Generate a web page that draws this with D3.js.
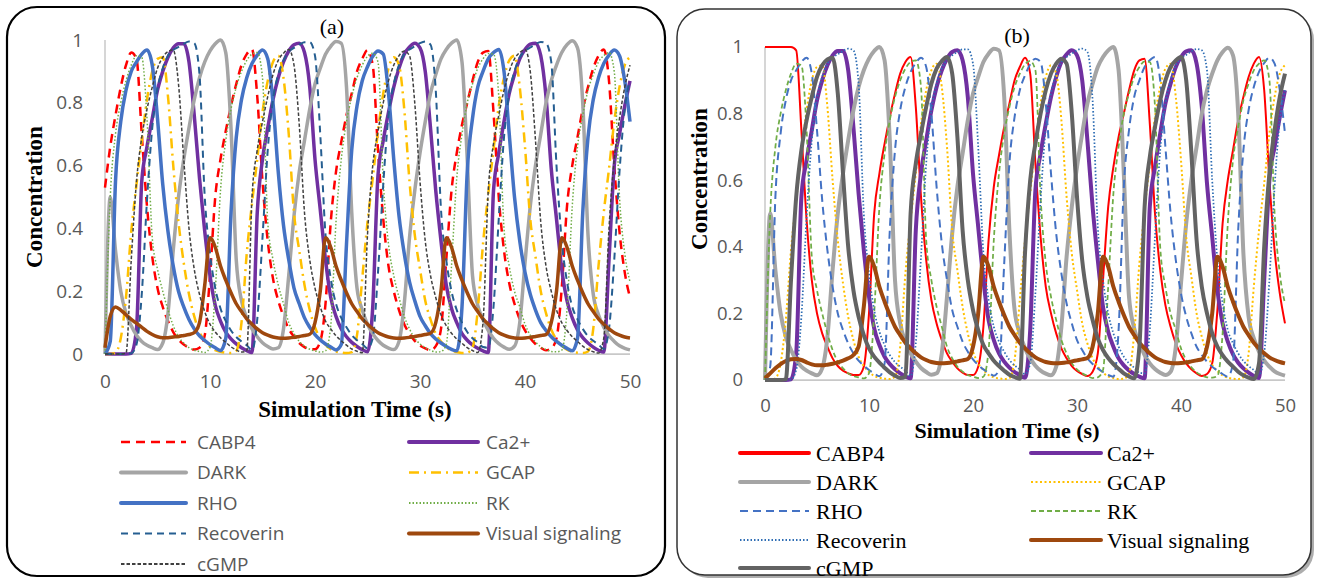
<!DOCTYPE html>
<html><head><meta charset="utf-8">
<script src="https://cdn.jsdelivr.net/npm/d3@7"></script>
<style>html,body{margin:0;padding:0;background:#fff;} svg{display:block;}</style>
</head><body>
<svg id="chart" width="1317" height="580"></svg>
<script>
// ---------- DATA (sampled every 0.5 s, t = 0 … 50 s) ----------
const times = d3.range(0, 50.0001, 0.5);
const xTickValues = [0, 10, 20, 30, 40, 50];
const yTickValues = [0, 0.2, 0.4, 0.6, 0.8, 1];
const seriesNames = ["CABP4", "Ca2+", "DARK", "GCAP", "RHO", "RK", "Recoverin", "Visual signaling", "cGMP"];
const panelLabels = ["(a)", "(b)"];
const xTitle = "Simulation Time (s)";
const yTitle = "Concentration";

const cabp4A = [0.53,0.66,0.76,0.85,0.92,0.96,0.94,0.7,0.47,0.31,
 0.21,0.15,0.105,0.07,0.046,0.03,0.02,0.014,0.02,0.06,
 0.25,0.5,0.62,0.71,0.79,0.86,0.92,0.955,0.97,0.82,
 0.55,0.36,0.24,0.17,0.12,0.08,0.055,0.035,0.022,0.015,
 0.015,0.04,0.16,0.42,0.58,0.675,0.76,0.83,0.9,0.94,
 0.968,0.92,0.65,0.43,0.28,0.2,0.14,0.095,0.065,0.042,
 0.027,0.018,0.012,0.025,0.08,0.3,0.52,0.64,0.73,0.8,
 0.87,0.93,0.96,0.965,0.77,0.5,0.33,0.225,0.16,0.11,
 0.075,0.05,0.032,0.02,0.012,0.018,0.05,0.21,0.47,0.6,
 0.69,0.78,0.85,0.91,0.95,0.97,0.87,0.6,0.39,0.26,
 0.18];
const cabp4B = [1,1,1,1,1,1,0.99,0.75,0.48,0.3,
 0.2,0.14,0.1,0.065,0.042,0.028,0.02,0.015,0.015,0.04,
 0.2,0.5,0.62,0.71,0.79,0.86,0.92,0.955,0.97,0.82,
 0.55,0.36,0.24,0.17,0.12,0.08,0.055,0.035,0.022,0.015,
 0.015,0.04,0.16,0.42,0.58,0.675,0.76,0.83,0.9,0.94,
 0.968,0.92,0.65,0.43,0.28,0.2,0.14,0.095,0.065,0.042,
 0.027,0.018,0.012,0.025,0.08,0.3,0.52,0.64,0.73,0.8,
 0.87,0.93,0.96,0.965,0.77,0.5,0.33,0.225,0.16,0.11,
 0.075,0.05,0.032,0.02,0.012,0.018,0.05,0.21,0.47,0.6,
 0.69,0.78,0.85,0.91,0.95,0.97,0.87,0.6,0.39,0.26,
 0.17];
const ca2 = [0,0,0,0,0,0.002,0.08,0.55,0.66,0.75,
 0.84,0.9,0.945,0.975,0.988,0.988,0.93,0.76,0.56,0.39,
 0.25,0.155,0.105,0.07,0.048,0.032,0.02,0.011,0.005,0.45,
 0.62,0.72,0.81,0.88,0.93,0.965,0.985,0.99,0.96,0.85,
 0.62,0.46,0.3,0.18,0.12,0.08,0.055,0.037,0.024,0.014,
 0.007,0.15,0.57,0.68,0.77,0.85,0.91,0.955,0.978,0.99,
 0.975,0.9,0.72,0.52,0.36,0.22,0.145,0.1,0.065,0.044,
 0.029,0.018,0.01,0.005,0.52,0.64,0.74,0.83,0.89,0.94,
 0.97,0.987,0.99,0.95,0.82,0.59,0.43,0.27,0.17,0.115,
 0.077,0.052,0.035,0.022,0.012,0.006,0.3,0.6,0.7,0.79,
 0.87];
const dark = [0,0.5,0.33,0.2,0.13,0.09,0.06,0.04,0.028,0.02,
 0.014,0.035,0.13,0.33,0.5,0.62,0.72,0.81,0.88,0.93,
 0.965,0.988,1.0,0.96,0.72,0.3,0.17,0.115,0.08,0.055,
 0.036,0.024,0.016,0.02,0.08,0.25,0.44,0.58,0.68,0.78,
 0.86,0.91,0.955,0.98,0.995,0.99,0.85,0.45,0.21,0.14,
 0.095,0.065,0.043,0.028,0.019,0.014,0.04,0.16,0.37,0.52,
 0.64,0.74,0.83,0.89,0.94,0.97,0.99,1.0,0.93,0.62,
 0.25,0.155,0.11,0.075,0.05,0.033,0.022,0.015,0.025,0.1,
 0.29,0.47,0.6,0.7,0.8,0.87,0.92,0.96,0.985,0.998,
 0.975,0.8,0.38,0.19,0.125,0.085,0.058,0.04,0.026,0.018,
 0.013];
const gcap = [0,0,0.005,0.05,0.18,0.39,0.54,0.68,0.81,0.9,
 0.94,0.945,0.82,0.6,0.42,0.29,0.19,0.12,0.07,0.042,
 0.024,0.012,0.007,0.004,0.003,0.01,0.1,0.32,0.48,0.62,
 0.77,0.87,0.93,0.95,0.88,0.7,0.45,0.33,0.22,0.14,
 0.085,0.05,0.03,0.015,0.008,0.005,0.003,0.006,0.06,0.24,
 0.42,0.56,0.71,0.83,0.91,0.945,0.92,0.78,0.55,0.38,
 0.27,0.17,0.11,0.065,0.04,0.022,0.011,0.006,0.003,0.004,
 0.02,0.14,0.35,0.51,0.65,0.79,0.88,0.935,0.95,0.85,
 0.66,0.43,0.31,0.2,0.13,0.078,0.046,0.027,0.014,0.007,
 0.004,0.003,0.008,0.08,0.28,0.45,0.59,0.74,0.85,0.92,
 0.945];
const rho = [0,0.04,0.55,0.74,0.84,0.9,0.93,0.955,0.968,0.92,
 0.75,0.54,0.39,0.28,0.2,0.15,0.11,0.08,0.058,0.043,
 0.03,0.02,0.011,0.05,0.45,0.69,0.81,0.88,0.925,0.952,
 0.968,0.94,0.8,0.58,0.41,0.3,0.21,0.16,0.115,0.085,
 0.062,0.045,0.032,0.022,0.013,0.03,0.35,0.65,0.79,0.87,
 0.915,0.948,0.965,0.955,0.83,0.62,0.44,0.32,0.23,0.17,
 0.12,0.09,0.065,0.048,0.035,0.024,0.015,0.01,0.15,0.58,
 0.75,0.85,0.9,0.94,0.96,0.97,0.9,0.7,0.5,0.36,
 0.26,0.19,0.14,0.1,0.075,0.055,0.04,0.028,0.018,0.01,
 0.05,0.45,0.69,0.81,0.88,0.925,0.952,0.968,0.95,0.87,
 0.74];
const rk = [0,0.5,0.7,0.8,0.87,0.92,0.95,0.945,0.75,0.37,
 0.27,0.2,0.14,0.09,0.055,0.035,0.02,0.012,0.008,0.005,
 0.02,0.2,0.52,0.68,0.78,0.85,0.9,0.935,0.955,0.96,
 0.88,0.42,0.3,0.22,0.16,0.1,0.065,0.04,0.025,0.015,
 0.01,0.006,0.01,0.09,0.42,0.62,0.74,0.82,0.88,0.92,
 0.948,0.958,0.93,0.55,0.35,0.25,0.18,0.12,0.08,0.05,
 0.032,0.02,0.012,0.006,0.008,0.03,0.28,0.56,0.7,0.8,
 0.86,0.91,0.94,0.957,0.955,0.82,0.4,0.28,0.2,0.15,
 0.095,0.06,0.038,0.023,0.014,0.008,0.007,0.012,0.14,0.47,
 0.66,0.76,0.84,0.89,0.93,0.95,0.96,0.9,0.5,0.32,
 0.23];
const recoverin = [0,0,0,0,0,0.002,0.03,0.19,0.49,0.72,
 0.845,0.91,0.95,0.968,0.978,0.988,0.995,0.99,0.89,0.5,
 0.32,0.21,0.145,0.105,0.075,0.054,0.04,0.028,0.012,0.11,
 0.37,0.65,0.81,0.89,0.935,0.962,0.975,0.985,0.993,0.993,
 0.95,0.7,0.38,0.24,0.16,0.115,0.085,0.06,0.044,0.032,
 0.018,0.05,0.26,0.54,0.76,0.86,0.92,0.955,0.97,0.98,
 0.99,0.995,0.985,0.84,0.46,0.3,0.2,0.14,0.1,0.07,
 0.05,0.037,0.022,0.02,0.15,0.43,0.69,0.83,0.9,0.945,
 0.965,0.976,0.987,0.994,0.99,0.93,0.6,0.36,0.23,0.15,
 0.11,0.08,0.057,0.042,0.03,0.016,0.08,0.3,0.58,0.78,
 0.87];
const visualA = [0.02,0.12,0.15,0.14,0.125,0.11,0.098,0.085,0.072,0.062,
 0.055,0.052,0.052,0.054,0.056,0.059,0.062,0.068,0.1,0.22,
 0.37,0.34,0.28,0.235,0.195,0.16,0.135,0.112,0.095,0.08,
 0.068,0.06,0.054,0.051,0.05,0.051,0.053,0.056,0.059,0.063,
 0.1,0.2,0.37,0.34,0.28,0.235,0.195,0.16,0.135,0.112,
 0.095,0.08,0.068,0.06,0.054,0.051,0.05,0.051,0.053,0.056,
 0.059,0.062,0.066,0.1,0.2,0.37,0.34,0.28,0.235,0.195,
 0.16,0.135,0.112,0.095,0.08,0.068,0.06,0.054,0.051,0.05,
 0.051,0.053,0.056,0.059,0.062,0.1,0.2,0.37,0.34,0.28,
 0.235,0.195,0.16,0.135,0.112,0.095,0.08,0.068,0.06,0.054,
 0.051];
const visualB = [0.005,0.02,0.035,0.048,0.057,0.062,0.063,0.06,0.053,0.047,
 0.044,0.044,0.046,0.049,0.053,0.058,0.065,0.075,0.1,0.22,
 0.37,0.34,0.28,0.235,0.195,0.16,0.135,0.112,0.095,0.08,
 0.068,0.06,0.054,0.051,0.05,0.051,0.053,0.056,0.059,0.063,
 0.1,0.2,0.37,0.34,0.28,0.235,0.195,0.16,0.135,0.112,
 0.095,0.08,0.068,0.06,0.054,0.051,0.05,0.051,0.053,0.056,
 0.059,0.062,0.066,0.1,0.2,0.37,0.34,0.28,0.235,0.195,
 0.16,0.135,0.112,0.095,0.08,0.068,0.06,0.054,0.051,0.05,
 0.051,0.053,0.056,0.059,0.062,0.1,0.2,0.37,0.34,0.28,
 0.235,0.195,0.16,0.135,0.112,0.095,0.08,0.068,0.06,0.054,
 0.05];
const cgmp = [0,0,0,0,0.002,0.3,0.55,0.69,0.78,0.85,
 0.91,0.945,0.963,0.968,0.86,0.62,0.4,0.27,0.19,0.135,
 0.095,0.07,0.052,0.037,0.023,0.013,0.006,0.01,0.5,0.65,
 0.74,0.82,0.89,0.935,0.958,0.97,0.92,0.73,0.45,0.3,
 0.21,0.15,0.105,0.08,0.058,0.042,0.028,0.016,0.009,0.004,
 0.38,0.6,0.71,0.8,0.87,0.92,0.95,0.965,0.95,0.8,
 0.55,0.36,0.25,0.18,0.125,0.09,0.066,0.048,0.034,0.02,
 0.011,0.005,0.1,0.52,0.67,0.76,0.84,0.9,0.94,0.96,
 0.97,0.9,0.68,0.42,0.28,0.2,0.14,0.1,0.075,0.055,
 0.04,0.025,0.014,0.007,0.003,0.05,0.4,0.62,0.75,0.85,
 0.92];

const valuesA = [cabp4A, ca2, dark, gcap, rho, rk, recoverin, visualA, cgmp];
const valuesB = [cabp4B, ca2, dark, gcap, rho, rk, recoverin, visualB, cgmp];

// ---------- STYLES ----------
const stylesA = [
  {color:"#ff0000", width:2.5, dash:"9,6"},
  {color:"#7030a0", width:3.5, dash:null},
  {color:"#a5a5a5", width:3.5, dash:null},
  {color:"#ffc000", width:2.5, dash:"10,5,2,5"},
  {color:"#4472c4", width:3.5, dash:null},
  {color:"#70ad47", width:1.5, dash:"1.5,2"},
  {color:"#255e91", width:2, dash:"7,5"},
  {color:"#9e480e", width:3.5, dash:null},
  {color:"#404040", width:1.5, dash:"3.5,2"}
];
const stylesB = [
  {color:"#ff0000", width:2, dash:null},
  {color:"#7030a0", width:4, dash:null},
  {color:"#a5a5a5", width:4, dash:null},
  {color:"#ffc000", width:2, dash:"2,2.5"},
  {color:"#4472c4", width:2, dash:"8,5"},
  {color:"#70ad47", width:1.75, dash:"5,3"},
  {color:"#2e6db4", width:1.75, dash:"1.5,2"},
  {color:"#9e480e", width:4, dash:null},
  {color:"#636363", width:4, dash:null}
];

const svg = d3.select("#chart");

// ---------- FRAMES ----------
svg.append("rect").attr("x",7).attr("y",7).attr("width",658).attr("height",569)
  .attr("rx",30).attr("ry",30).attr("fill","#fff").attr("stroke","#000").attr("stroke-width",2.2);
svg.append("rect").attr("x",680).attr("y",12).attr("width",634).attr("height",566)
  .attr("rx",28).attr("ry",28).attr("fill","#8a8a8a").attr("opacity",0.7);
svg.append("rect").attr("x",677).attr("y",9).attr("width",634).attr("height",566)
  .attr("rx",28).attr("ry",28).attr("fill","#fff").attr("stroke","#333").attr("stroke-width",1.5);

function drawPanel(p) {
  const g = svg.append("g");
  const x = d3.scaleLinear().domain([0, 50]).range([p.x0, p.x1]);
  const y = d3.scaleLinear().domain([0, 1]).range([p.yBottom, p.yTop]);

  // axis lines
  g.append("line").attr("x1", x(0)).attr("x2", x(0)).attr("y1", y(1)).attr("y2", y(0))
    .attr("stroke", "#c8c8c8").attr("stroke-width", 1.5);
  g.append("line").attr("x1", x(0)).attr("x2", x(50)).attr("y1", y(0)).attr("y2", y(0))
    .attr("stroke", "#c8c8c8").attr("stroke-width", 1.75);

  const yAxis = g.append("g").attr("transform", `translate(${x(0)},0)`)
    .call(d3.axisLeft(y).tickValues(yTickValues).tickSize(0).tickPadding(22).tickFormat(d3.format("~g")));
  const xAxis = g.append("g").attr("transform", `translate(0,${y(0)})`)
    .call(d3.axisBottom(x).tickValues(xTickValues).tickSize(0).tickPadding(p.xPad).tickFormat(d3.format("~g")));
  [yAxis, xAxis].forEach(a => {
    a.select(".domain").remove();
    a.selectAll("text").attr("fill", "#595959").style("font-family", "'Open Sans', sans-serif").style("font-size", p.tickSize);
  });

  // lines
  const line = d3.line().x((d, i) => x(times[i])).y(d => y(d)).curve(d3.curveMonotoneX);
  p.values.forEach((vals, i) => {
    const s = p.styles[i];
    g.append("path").datum(vals).attr("d", line).attr("fill", "none")
      .attr("stroke", s.color).attr("stroke-width", s.width)
      .attr("stroke-dasharray", s.dash).attr("stroke-linejoin", "round");
  });

  // titles
  g.append("text").attr("transform", `translate(${p.yTitleX},${p.yTitleY}) rotate(-90)`)
    .attr("text-anchor", "middle").style("font-family", "'Liberation Serif','Times New Roman',serif")
    .style("font-weight", "bold").style("font-size", "23px").text(yTitle);
  g.append("text").attr("x", p.xTitleX).attr("y", p.xTitleY).attr("text-anchor", "middle")
    .style("font-family", "'Liberation Serif','Times New Roman',serif")
    .style("font-weight", "bold").style("font-size", p.xTitleSize).text(xTitle);
  g.append("text").attr("x", p.labelX).attr("y", p.labelY).attr("text-anchor", "middle")
    .style("font-family", "'Liberation Serif','Times New Roman',serif")
    .style("font-size", "22px").text(p.label);

  // legend
  seriesNames.forEach((name, i) => {
    const col = i % 2, row = Math.floor(i / 2);
    const s = p.styles[i];
    const cy = p.legRows[row];
    const lx = p.legCols[col];
    g.append("line").attr("x1", lx[0]).attr("x2", lx[1]).attr("y1", cy).attr("y2", cy)
      .attr("stroke", s.color).attr("stroke-width", s.dash ? Math.max(s.width, 2) : 4)
      .attr("stroke-dasharray", s.dash).attr("stroke-linecap", s.dash ? "butt" : "round");
    g.append("text").attr("x", lx[2]).attr("y", cy).attr("dy", "0.35em")
      .attr("fill", p.legColor).style("font-family", p.legFont).style("font-size", p.legSize)
      .text(name);
  });
}

drawPanel({
  x0: 105, x1: 630, yTop: 40, yBottom: 354, xPad: 21, tickSize: "19px",
  values: valuesA, styles: stylesA,
  yTitleX: 42, yTitleY: 197, xTitleX: 355, xTitleY: 417, xTitleSize: "23px",
  label: panelLabels[0], labelX: 332, labelY: 34,
  legRows: [442, 472.5, 503, 533.5, 564],
  legCols: [[121, 186, 197], [409, 478, 486]],
  legColor: "#595959", legFont: "'Open Sans', sans-serif", legSize: "19px"
});
drawPanel({
  x0: 765, x1: 1285, yTop: 47, yBottom: 380, xPad: 19, tickSize: "18.5px",
  values: valuesB, styles: stylesB,
  yTitleX: 707, yTitleY: 179, xTitleX: 1007, xTitleY: 438, xTitleSize: "22px",
  label: panelLabels[1], labelX: 1017, labelY: 43,
  legRows: [453, 482, 511, 540, 568],
  legCols: [[740, 809, 816], [1031, 1101, 1107]],
  legColor: "#000", legFont: "'Liberation Serif','Times New Roman',serif", legSize: "22px"
});
</script>
</body></html>
